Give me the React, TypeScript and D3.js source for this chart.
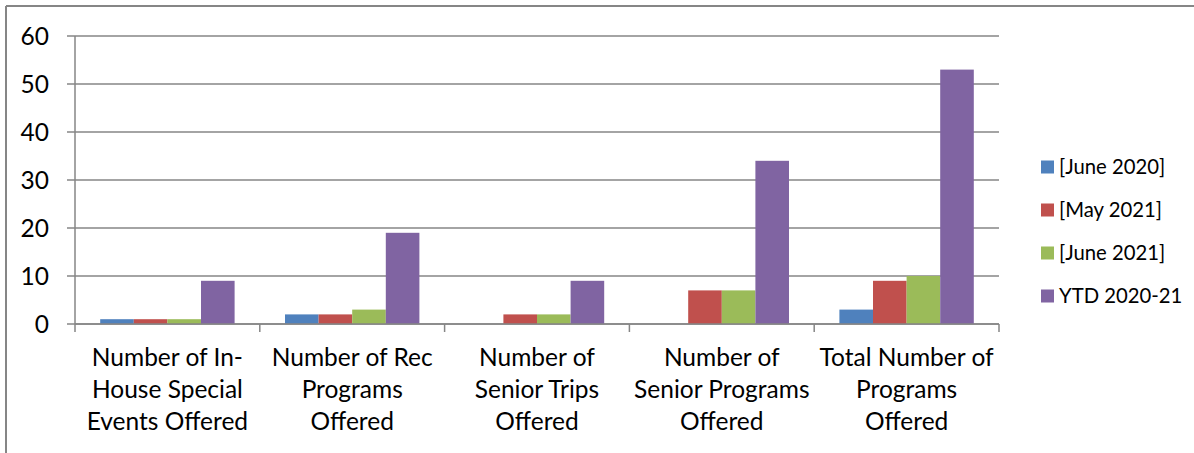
import React from "react";
import * as d3 from "d3";

const categories: string[][] = [
  ["Number of In-", "House Special", "Events Offered"],
  ["Number of Rec", "Programs", "Offered"],
  ["Number of", "Senior Trips", "Offered"],
  ["Number of", "Senior Programs", "Offered"],
  ["Total Number of", "Programs", "Offered"],
];
const seriesNames = ["[June 2020]", "[May 2021]", "[June 2021]", "YTD 2020-21"];
const june2020 = [1, 2, 0, 0, 3];
const may2021 = [1, 2, 2, 7, 9];
const june2021 = [1, 3, 2, 7, 10];
const ytd = [9, 19, 9, 34, 53];
const seriesColors = ["#4F81BD", "#C0504D", "#9BBB59", "#8064A2"];
const yTicks = [0, 10, 20, 30, 40, 50, 60];

const FONT = "Lato, 'Open Sans', sans-serif";

export default function App() {
  const W = 1194;
  const H = 453;
  const left = 75;
  const right = 999;
  const top = 36;
  const bottom = 324;
  const series = [june2020, may2021, june2021, ytd];

  const x = d3
    .scaleBand<number>()
    .domain(d3.range(categories.length))
    .range([left, right])
    .paddingInner(0)
    .paddingOuter(0);
  const y = d3.scaleLinear().domain([0, 60]).range([bottom, top]);
  const bw = x.bandwidth();
  const barW = bw / 5.5;
  const inner = d3
    .scaleBand<number>()
    .domain(d3.range(series.length))
    .range([0.75 * barW, bw - 0.75 * barW]);

  const gridColor = "#868686";

  return (
    <svg
      width={W}
      height={H}
      style={{ position: "absolute", left: 0, top: 0, background: "#fff" }}
      fontFamily={FONT}
    >
      {/* frame */}
      <line x1={6} y1={6} x2={W} y2={6} stroke={gridColor} strokeWidth={2} />
      <line x1={6} y1={6} x2={6} y2={H} stroke={gridColor} strokeWidth={2} />

      {/* gridlines + y ticks */}
      {yTicks.map((t) => (
        <g key={t}>
          <line x1={left - 8} x2={right} y1={y(t)} y2={y(t)} stroke={gridColor} strokeWidth={1.5} />
          <text x={49} y={y(t)} dy="0.35em" textAnchor="end" fontSize={24.5} fill="#000">
            {t}
          </text>
        </g>
      ))}
      {/* y axis */}
      <line x1={left} x2={left} y1={top} y2={bottom} stroke={gridColor} strokeWidth={1.5} />
      {/* x ticks */}
      {d3.range(categories.length + 1).map((i) => {
        const xv = i < categories.length ? x(i)! : right;
        return <line key={i} x1={xv} x2={xv} y1={bottom} y2={bottom + 8} stroke={gridColor} strokeWidth={1.5} />;
      })}

      {/* bars */}
      {series.map((vals, si) =>
        vals.map((v, ci) => (
          <rect
            key={`${si}-${ci}`}
            x={x(ci)! + inner(si)!}
            y={y(v)}
            width={inner.bandwidth()}
            height={y(0) - y(v)}
            fill={seriesColors[si]}
          />
        ))
      )}
      <line x1={left} x2={right} y1={bottom} y2={bottom} stroke={gridColor} strokeWidth={1.5} />

      {/* category labels */}
      {categories.map((lines, ci) => (
        <text key={ci} textAnchor="middle" fontSize={24.5} fill="#000">
          {lines.map((ln, li) => (
            <tspan key={li} x={x(ci)! + bw / 2} y={366 + li * 32}>
              {ln}
            </tspan>
          ))}
        </text>
      ))}

      {/* legend */}
      {seriesNames.map((name, i) => {
        const cy = [167, 210, 253, 296][i];
        return (
          <g key={name}>
            <rect x={1041} y={cy - 6.5} width={13} height={13} fill={seriesColors[i]} />
            <text x={1059} y={cy} dy="0.35em" fontSize={20.3} fill="#000">
              {name}
            </text>
          </g>
        );
      })}
    </svg>
  );
}
